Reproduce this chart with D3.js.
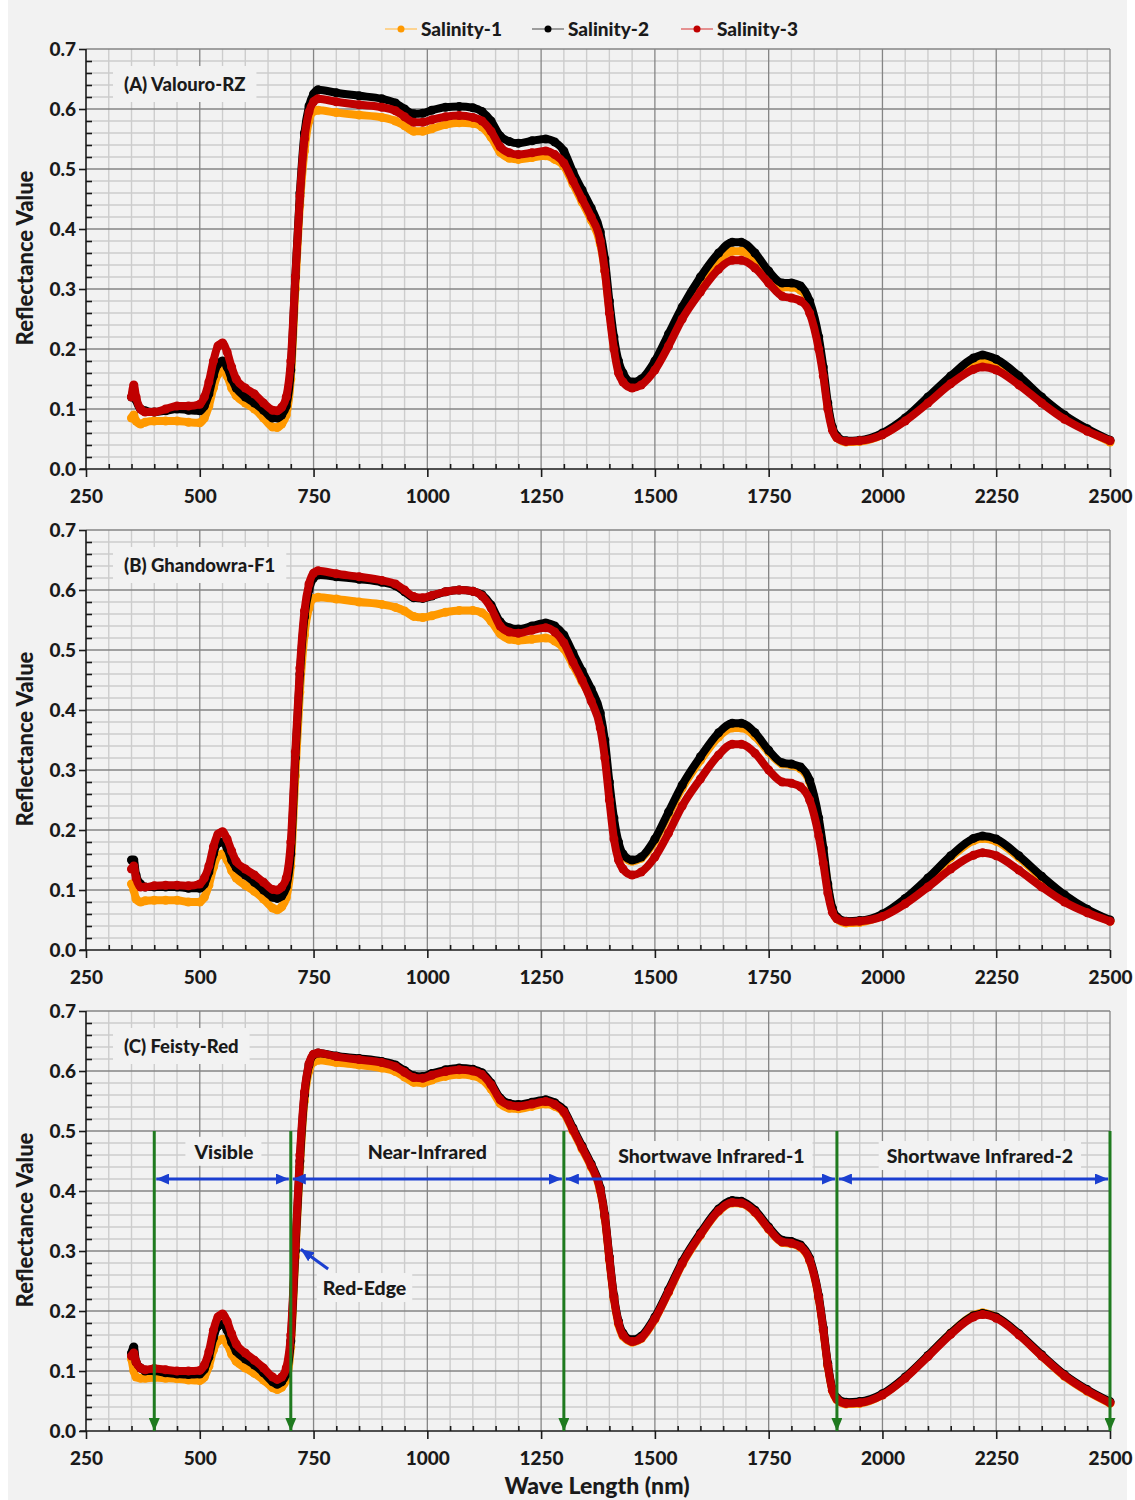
<!DOCTYPE html>
<html><head><meta charset="utf-8">
<script src="https://cdn.jsdelivr.net/npm/d3@7"></script>
<style>body{margin:0;background:#ffffff}text{font-family:Lato,"Open Sans",sans-serif;font-weight:900;fill:#1a1a1a}</style>
</head><body><svg id="c" width="1135" height="1500"></svg>
<script>
// ---------- DATA ----------
const wavelengths = [
 350,355,360,370,380,400,425,450,475,500,
 510,520,530,540,550,560,570,580,600,
 620,640,660,670,680,690,700,710,720,730,740,750,760,
 800,850,900,930,950,970,990,1010,1040,1070,
 1100,1120,1140,1160,1180,1200,1230,1260,1280,1300,
 1320,1340,1360,1380,1390,1400,1410,1420,1430,1450,1470,
 1500,1530,1560,1600,1640,1670,1690,1720,1750,1780,
 1800,1820,1840,1860,1870,1880,1890,1900,1920,1950,
 2000,2050,2100,2150,2200,2220,2250,2300,2350,2400,2450,2500];

const seriesNames = ["Salinity-1","Salinity-2","Salinity-3"];
const seriesColors = ["#ff9900","#000000","#c00000"];
const legendLineColors = ["#ffc870","#808080","#e07070"];
const panelTitles = ["(A) Valouro-RZ","(B) Ghandowra-F1","(C) Feisty-Red"];
const xTicks = [250,500,750,1000,1250,1500,1750,2000,2250,2500];
const yTicks = [0,0.1,0.2,0.3,0.4,0.5,0.6,0.7];
const regionBounds = [400,700,1300,1900,2500];
const regionLabels = ["Visible","Near-Infrared","Shortwave Infrared-1","Shortwave Infrared-2"];
const regionLabelCenters = [553,1000,1624,2214];

// Panel A
const A_sal1 = [
 0.085,0.09,0.08,0.075,0.078,0.08,0.08,0.08,0.078,0.077,
 0.085,0.105,0.135,0.158,0.165,0.155,0.135,0.122,0.11,
 0.10,0.085,0.07,0.069,0.075,0.09,0.15,0.30,0.44,0.53,0.58,0.596,0.598,
 0.594,0.59,0.586,0.58,0.572,0.563,0.563,0.567,0.574,0.577,
 0.576,0.57,0.553,0.528,0.518,0.516,0.519,0.522,0.516,0.505,
 0.475,0.445,0.415,0.375,0.33,0.265,0.205,0.165,0.15,0.14,0.145,
 0.17,0.215,0.26,0.308,0.348,0.363,0.363,0.348,0.322,0.303,
 0.303,0.298,0.275,0.21,0.16,0.105,0.068,0.052,0.045,0.046,
 0.057,0.082,0.115,0.148,0.173,0.177,0.172,0.147,0.115,0.086,0.064,0.045];
const A_sal2 = [
 0.12,0.13,0.115,0.10,0.097,0.095,0.097,0.10,0.098,0.097,
 0.105,0.125,0.155,0.175,0.18,0.17,0.15,0.135,0.12,
 0.11,0.098,0.085,0.085,0.09,0.105,0.165,0.32,0.46,0.56,0.605,0.625,0.632,
 0.627,0.622,0.617,0.61,0.60,0.592,0.593,0.598,0.603,0.604,
 0.602,0.596,0.58,0.555,0.546,0.543,0.547,0.55,0.545,0.53,
 0.495,0.465,0.435,0.395,0.35,0.28,0.22,0.18,0.16,0.145,0.15,
 0.18,0.225,0.27,0.32,0.36,0.378,0.378,0.36,0.33,0.31,
 0.31,0.305,0.28,0.22,0.17,0.11,0.07,0.055,0.047,0.048,
 0.06,0.085,0.12,0.155,0.185,0.19,0.183,0.155,0.12,0.09,0.067,0.048];
const A_sal3 = [
 0.12,0.14,0.12,0.10,0.095,0.095,0.10,0.105,0.105,0.108,
 0.12,0.145,0.18,0.205,0.21,0.195,0.17,0.15,0.135,
 0.125,0.11,0.098,0.097,0.103,0.12,0.18,0.32,0.455,0.55,0.595,0.612,0.617,
 0.612,0.607,0.603,0.597,0.587,0.578,0.578,0.582,0.587,0.589,
 0.586,0.58,0.563,0.537,0.527,0.524,0.527,0.53,0.524,0.51,
 0.48,0.45,0.42,0.38,0.33,0.26,0.20,0.16,0.145,0.135,0.14,
 0.165,0.205,0.25,0.295,0.333,0.348,0.348,0.335,0.31,0.288,
 0.285,0.28,0.26,0.20,0.155,0.10,0.065,0.052,0.046,0.047,
 0.057,0.08,0.11,0.142,0.166,0.17,0.165,0.14,0.11,0.083,0.063,0.047];

// Panel B
const B_sal1 = [
 0.11,0.10,0.085,0.08,0.082,0.083,0.083,0.083,0.08,0.08,
 0.088,0.108,0.138,0.157,0.16,0.15,0.132,0.12,0.108,
 0.098,0.085,0.07,0.067,0.072,0.087,0.14,0.29,0.43,0.525,0.57,0.586,0.588,
 0.585,0.58,0.576,0.571,0.565,0.556,0.554,0.557,0.563,0.566,
 0.566,0.562,0.548,0.527,0.518,0.516,0.518,0.52,0.515,0.502,
 0.475,0.447,0.42,0.38,0.335,0.27,0.21,0.172,0.157,0.148,0.153,
 0.182,0.226,0.27,0.316,0.355,0.37,0.37,0.356,0.33,0.31,
 0.308,0.302,0.28,0.215,0.165,0.107,0.068,0.052,0.045,0.046,
 0.058,0.084,0.118,0.154,0.182,0.186,0.181,0.154,0.12,0.09,0.066,0.048];
const B_sal2 = [
 0.15,0.15,0.125,0.11,0.105,0.105,0.105,0.105,0.103,0.103,
 0.11,0.13,0.16,0.178,0.18,0.17,0.15,0.137,0.125,
 0.113,0.10,0.088,0.086,0.09,0.105,0.16,0.32,0.46,0.555,0.60,0.62,0.625,
 0.622,0.618,0.613,0.607,0.597,0.587,0.586,0.59,0.597,0.60,
 0.598,0.592,0.575,0.547,0.537,0.535,0.54,0.545,0.54,0.525,
 0.495,0.465,0.435,0.395,0.35,0.28,0.22,0.18,0.16,0.15,0.155,
 0.185,0.23,0.275,0.322,0.362,0.378,0.378,0.362,0.333,0.312,
 0.31,0.305,0.283,0.22,0.17,0.11,0.07,0.055,0.048,0.049,
 0.06,0.086,0.12,0.157,0.186,0.19,0.185,0.157,0.123,0.092,0.068,0.05];
const B_sal3 = [
 0.135,0.14,0.12,0.105,0.105,0.107,0.108,0.108,0.107,0.11,
 0.12,0.14,0.172,0.193,0.197,0.185,0.165,0.148,0.135,
 0.125,0.113,0.101,0.10,0.105,0.12,0.18,0.33,0.47,0.565,0.61,0.628,0.632,
 0.627,0.622,0.616,0.61,0.60,0.589,0.587,0.591,0.597,0.60,
 0.598,0.59,0.57,0.54,0.53,0.528,0.533,0.537,0.53,0.512,
 0.48,0.45,0.415,0.37,0.32,0.25,0.185,0.15,0.135,0.125,0.13,
 0.155,0.195,0.24,0.285,0.325,0.343,0.343,0.328,0.30,0.28,
 0.278,0.272,0.25,0.19,0.145,0.095,0.063,0.052,0.047,0.048,
 0.056,0.077,0.105,0.135,0.158,0.162,0.157,0.133,0.105,0.08,0.062,0.048];

// Panel C
const C_sal1 = [
 0.12,0.10,0.09,0.088,0.088,0.089,0.088,0.087,0.085,0.084,
 0.09,0.108,0.135,0.15,0.153,0.145,0.128,0.116,0.105,
 0.096,0.085,0.072,0.069,0.073,0.085,0.14,0.29,0.44,0.55,0.60,0.615,0.618,
 0.614,0.61,0.605,0.599,0.59,0.581,0.58,0.585,0.591,0.594,
 0.592,0.586,0.57,0.546,0.538,0.537,0.541,0.545,0.541,0.53,
 0.50,0.47,0.44,0.40,0.355,0.285,0.22,0.178,0.158,0.148,0.154,
 0.186,0.231,0.278,0.326,0.366,0.38,0.379,0.364,0.336,0.314,
 0.312,0.306,0.284,0.221,0.168,0.108,0.067,0.052,0.045,0.046,
 0.06,0.089,0.125,0.163,0.193,0.197,0.19,0.161,0.125,0.091,0.066,0.046];
const C_sal2 = [
 0.13,0.14,0.115,0.105,0.10,0.10,0.097,0.095,0.094,0.095,
 0.103,0.123,0.155,0.175,0.178,0.168,0.148,0.133,0.12,
 0.11,0.097,0.082,0.078,0.082,0.095,0.15,0.30,0.45,0.56,0.61,0.627,0.63,
 0.625,0.621,0.616,0.61,0.601,0.592,0.591,0.596,0.602,0.605,
 0.603,0.597,0.58,0.555,0.546,0.544,0.548,0.552,0.547,0.535,
 0.505,0.475,0.445,0.405,0.36,0.29,0.225,0.183,0.163,0.152,0.158,
 0.19,0.235,0.282,0.33,0.37,0.384,0.383,0.368,0.34,0.318,
 0.316,0.31,0.288,0.225,0.172,0.112,0.07,0.055,0.048,0.049,
 0.062,0.09,0.126,0.163,0.192,0.196,0.19,0.162,0.127,0.094,0.069,0.049];
const C_sal3 = [
 0.125,0.13,0.115,0.105,0.102,0.104,0.102,0.10,0.10,0.101,
 0.11,0.132,0.168,0.19,0.195,0.183,0.162,0.145,0.13,
 0.118,0.105,0.09,0.086,0.09,0.105,0.16,0.31,0.46,0.565,0.612,0.628,0.63,
 0.624,0.619,0.614,0.607,0.598,0.589,0.588,0.593,0.599,0.602,
 0.60,0.594,0.577,0.552,0.543,0.541,0.545,0.549,0.544,0.532,
 0.502,0.472,0.442,0.402,0.357,0.287,0.222,0.18,0.16,0.149,0.155,
 0.187,0.232,0.279,0.327,0.367,0.381,0.38,0.365,0.337,0.315,
 0.313,0.307,0.285,0.222,0.169,0.109,0.068,0.053,0.046,0.047,
 0.06,0.088,0.124,0.161,0.19,0.194,0.188,0.16,0.125,0.092,0.067,0.047];

const panels = [
  {title: panelTitles[0], series: [A_sal1, A_sal2, A_sal3]},
  {title: panelTitles[1], series: [B_sal1, B_sal2, B_sal3]},
  {title: panelTitles[2], series: [C_sal1, C_sal2, C_sal3]}
];

// ---------- LAYOUT ----------
const W = 1135, H = 1500;
const svg = d3.select("#c");
svg.append("rect").attr("x",8).attr("y",0).attr("width",1119).attr("height",H).attr("fill","#f2f2f2");

const left = 86, right = 1110;
const panelTops = [49, 530, 1011];
const panelH = 420;
const BG = "#f2f2f2";
const INK = "#1a1a1a";

const x = d3.scaleLinear().domain([250,2500]).range([left,right]);
const minorX = d3.range(250, 2501, 50).filter(v => v % 250 !== 0);
const minorY = d3.range(0, 36).map(i => i*0.02).filter(v => Math.abs(v*10 - Math.round(v*10)) > 1e-6 && v <= 0.7);

const defs = svg.append("defs");
defs.append("marker").attr("id","blueHead").attr("viewBox","0 0 13 11")
  .attr("refX",13).attr("refY",5.5).attr("markerWidth",13).attr("markerHeight",11)
  .attr("markerUnits","userSpaceOnUse").attr("orient","auto-start-reverse")
  .append("path").attr("d","M0,0 L13,5.5 L0,11 Z").attr("fill","#1b3fd0");
defs.append("marker").attr("id","greenHead").attr("viewBox","0 0 11 13")
  .attr("refX",5.5).attr("refY",13).attr("markerWidth",11).attr("markerHeight",13)
  .attr("markerUnits","userSpaceOnUse").attr("orient","0")
  .append("path").attr("d","M0,0 L11,0 L5.5,13 Z").attr("fill","#1f7a1f");

panels.forEach((p, pi) => {
  const top = panelTops[pi], bottom = top + panelH;
  const y = d3.scaleLinear().domain([0,0.7]).range([bottom, top]);
  const g = svg.append("g");

  // minor grid
  g.append("g").selectAll("line").data(minorX).join("line")
    .attr("x1", d=>x(d)).attr("x2", d=>x(d)).attr("y1", top).attr("y2", bottom)
    .attr("stroke","#cdcdcd").attr("stroke-width",1.4);
  g.append("g").selectAll("line").data(minorY).join("line")
    .attr("x1", left).attr("x2", right).attr("y1", d=>y(d)).attr("y2", d=>y(d))
    .attr("stroke","#cdcdcd").attr("stroke-width",1.4);
  // major grid
  g.append("g").selectAll("line").data(xTicks.slice(1)).join("line")
    .attr("x1", d=>x(d)).attr("x2", d=>x(d)).attr("y1", top).attr("y2", bottom)
    .attr("stroke","#858585").attr("stroke-width",1.3);
  g.append("g").selectAll("line").data(yTicks.slice(1)).join("line")
    .attr("x1", left).attr("x2", right).attr("y1", d=>y(d)).attr("y2", d=>y(d))
    .attr("stroke","#858585").attr("stroke-width",1.3);

  // panel title with background box
  const tg = g.append("g");
  const tt = tg.append("text").attr("x", 124).attr("y", top + 42).attr("font-size", 18.5).text(p.title);
  const bb = tt.node().getBBox();
  tg.insert("rect","text").attr("x", bb.x-11).attr("y", bb.y-7).attr("width", bb.width+22).attr("height", bb.height+14).attr("fill", BG);

  // axes
  const xAxis = d3.axisBottom(x).tickValues(xTicks).tickSize(8).tickPadding(13).tickFormat(d3.format("d"));
  const xa = g.append("g").attr("transform",`translate(0,${bottom})`).call(xAxis);
  const xMinor = d3.axisBottom(x).tickValues(minorX).tickSize(-5).tickFormat("");
  g.append("g").attr("transform",`translate(0,${bottom})`).call(xMinor).call(s=>s.select(".domain").remove());
  const yAxis = d3.axisLeft(y).tickValues(yTicks).tickSize(7).tickPadding(3).tickFormat(d3.format(".1f"));
  const ya = g.append("g").attr("transform",`translate(${left},0)`).call(yAxis);
  const yMinor = d3.axisLeft(y).tickValues(minorY).tickSize(-6).tickFormat("");
  g.append("g").attr("transform",`translate(${left},0)`).call(yMinor).call(s=>s.select(".domain").remove());
  [xa, ya].forEach(a => {
    a.select(".domain").attr("stroke",INK).attr("stroke-width",1.6);
    a.selectAll(".tick text").attr("font-size",19).attr("font-family","Lato").attr("font-weight","900").attr("fill",INK);
  });
  ya.select(".domain").attr("d", `M0,${bottom}V${top}`);
  xa.select(".domain").attr("d", `M${left-6},0H${right}`);
  g.selectAll(".tick line").attr("stroke",INK).attr("stroke-width",1.6);

  // y axis title
  g.append("text").attr("transform",`translate(33,${(top+bottom)/2 - 1}) rotate(-90)`)
    .attr("text-anchor","middle").attr("font-size",22).text("Reflectance Value");

  // series
  const line = d3.line().x((d,i)=>x(wavelengths[i])).y(d=>y(d)).curve(d3.curveMonotoneX);
  p.series.forEach((vals, si) => {
    const sg = g.append("g");
    sg.append("path").datum(vals).attr("d", line).attr("fill","none")
      .attr("stroke", seriesColors[si]).attr("stroke-width",8)
      .attr("stroke-linejoin","round").attr("stroke-linecap","round");
    sg.selectAll("circle").data(vals).join("circle")
      .attr("cx",(d,i)=>x(wavelengths[i])).attr("cy",d=>y(d)).attr("r",4.5)
      .attr("fill", seriesColors[si]);
  });

  // annotations for panel C
  if (pi === 2) {
    const ag = g.append("g");
    regionBounds.forEach(b => {
      ag.append("line").attr("x1", x(b)).attr("x2", x(b)).attr("y1", y(0.5)).attr("y2", y(0))
        .attr("stroke","#1f7a1f").attr("stroke-width",3).attr("marker-end","url(#greenHead)");
    });
    for (let i=0;i<regionLabels.length;i++){
      const a = regionBounds[i], b = regionBounds[i+1];
      ag.append("line").attr("x1", x(a)+2).attr("x2", x(b)-2).attr("y1", y(0.42)).attr("y2", y(0.42))
        .attr("stroke","#1b3fd0").attr("stroke-width",3)
        .attr("marker-start","url(#blueHead)").attr("marker-end","url(#blueHead)");
      const ly = i < 2 ? 0.465 : 0.458;
      const lt = ag.append("text").attr("x", x(regionLabelCenters[i]))
        .attr("y", y(ly)).attr("dy","0.35em").attr("text-anchor","middle").attr("font-size",19.5).text(regionLabels[i]);
      const lb = lt.node().getBBox();
      ag.insert("rect","text").attr("x", lb.x-8).attr("y", lb.y-3).attr("width", lb.width+16).attr("height", lb.height+6).attr("fill", BG);
    }
    // Red-Edge annotation
    const reg = ag.append("g");
    const rt = reg.append("text").attr("x", x(862)).attr("y", y(0.238)).attr("dy","0.35em")
      .attr("text-anchor","middle").attr("font-size",19.5).text("Red-Edge");
    const rb = rt.node().getBBox();
    reg.insert("rect","text").attr("x", rb.x-6).attr("y", rb.y-3).attr("width", rb.width+12).attr("height", rb.height+6).attr("fill", BG);
    reg.append("line").attr("x1", x(782)).attr("y1", y(0.27)).attr("x2", x(722)).attr("y2", y(0.303))
      .attr("stroke","#1b3fd0").attr("stroke-width",3).attr("marker-end","url(#blueHead)");
  }
});

// x axis title
svg.append("text").attr("x", 597).attr("y", 1494).attr("text-anchor","middle").attr("font-size",23).text("Wave Length (nm)");

// legend
const legendX = [401, 548, 697];
seriesNames.forEach((n, i) => {
  const lg = svg.append("g").attr("transform",`translate(${legendX[i]},29)`);
  lg.append("line").attr("x1",-16).attr("x2",16).attr("stroke",legendLineColors[i]).attr("stroke-width",1.5);
  lg.append("circle").attr("r",3.5).attr("fill",seriesColors[i]);
  lg.append("text").attr("x",20).attr("dy","0.35em").attr("font-size",19).text(n);
});
</script></body></html>
